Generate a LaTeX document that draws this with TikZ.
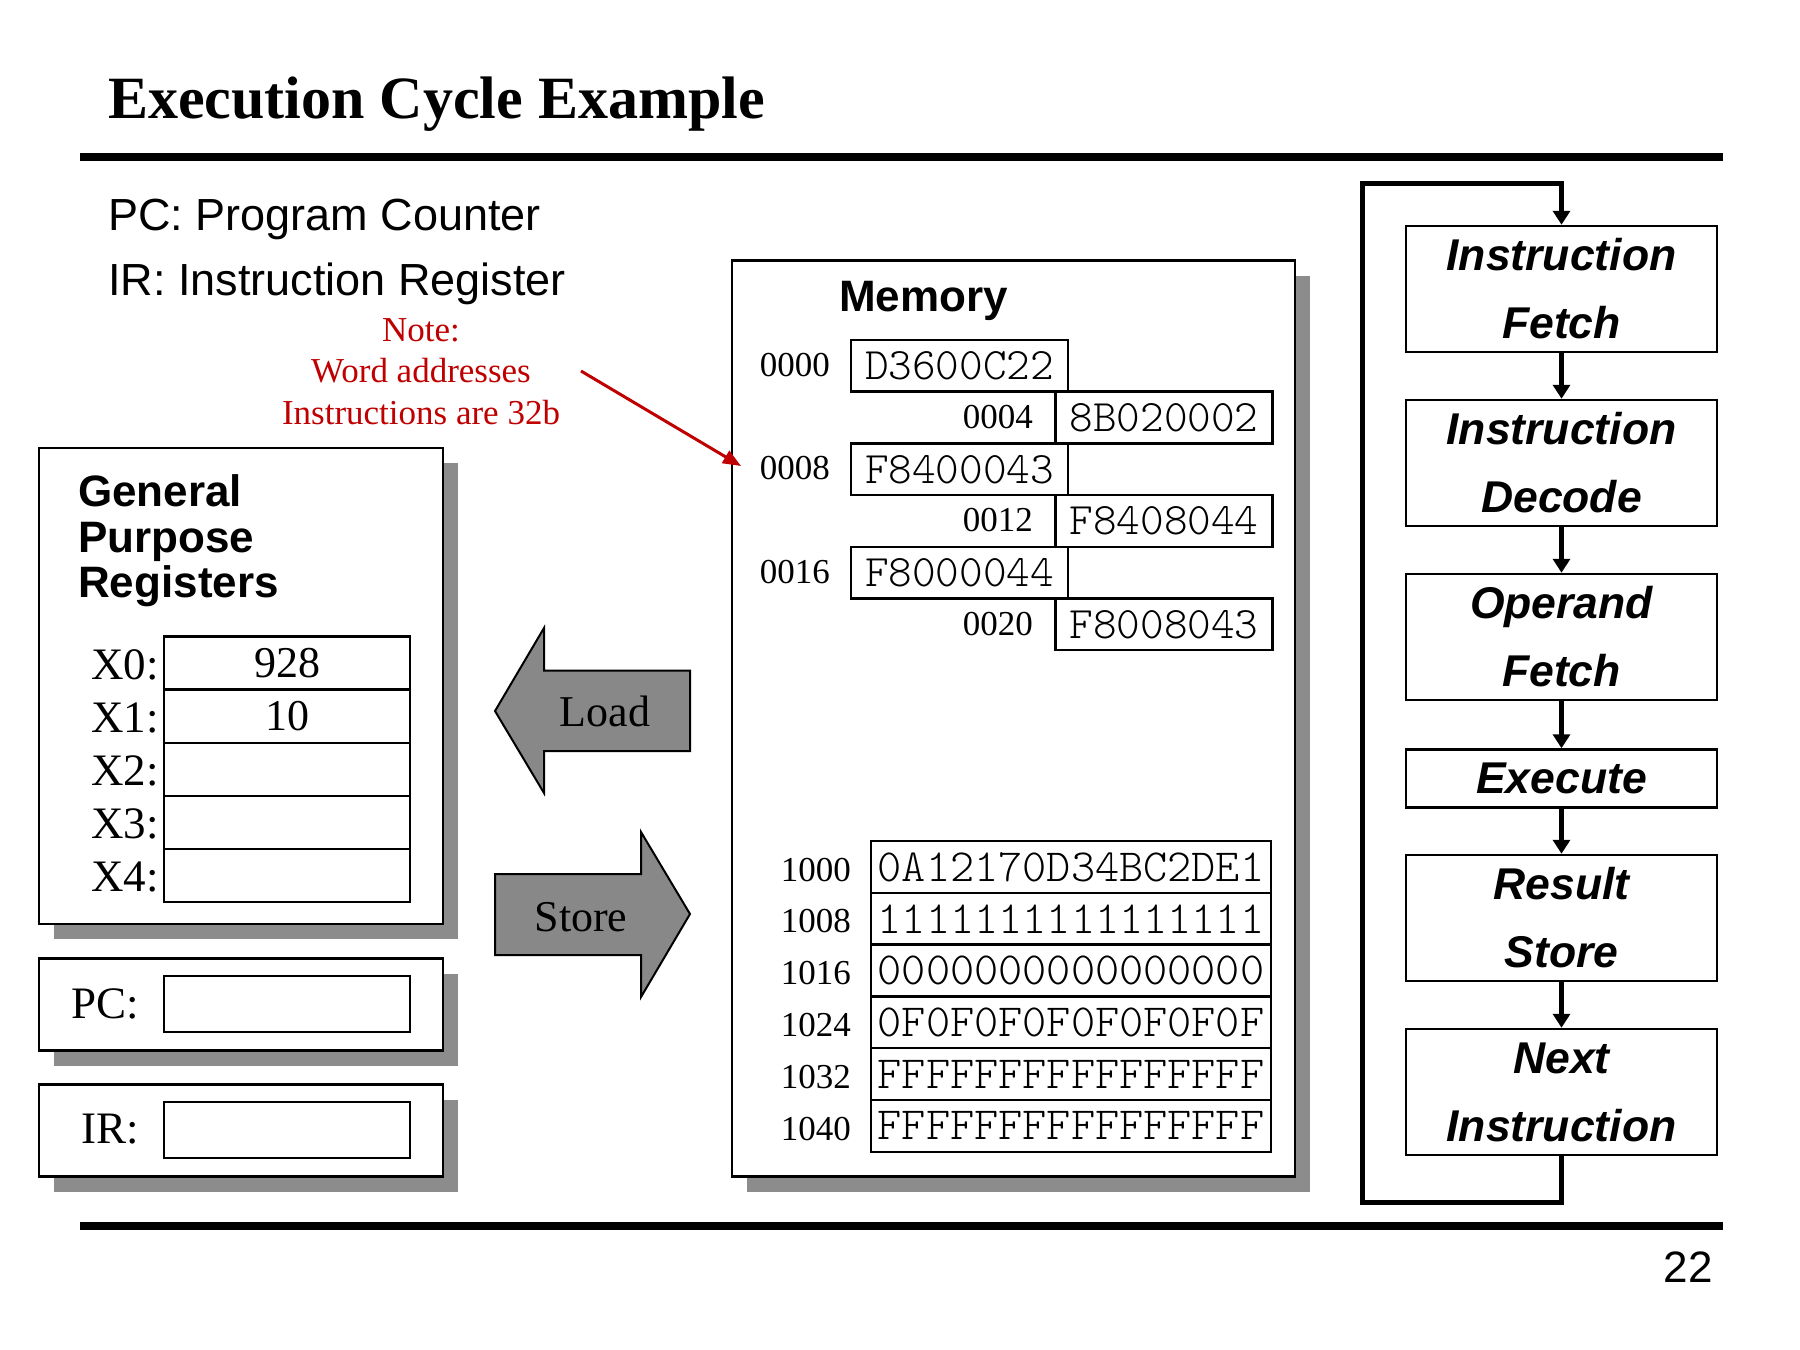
\documentclass[tikz,border=0pt]{standalone}
\usepackage{fontspec}
\setmainfont{Liberation Serif}
\newfontfamily\arialfont{Liberation Sans}
\newfontfamily\hexfont{lmmonolt10-regular}[Extension=.otf]
\usetikzlibrary{arrows.meta,shadows}
\definecolor{notered}{HTML}{C00000}
\definecolor{shadegray}{HTML}{8C8C8C}
\definecolor{blockgray}{HTML}{888888}
\tikzset{
  panel/.style={draw=black, line width=2.5pt, fill=white, inner sep=0pt, outer sep=0pt,
    general shadow={fill=shadegray, shadow xshift=15pt, shadow yshift=-15pt}},
  cell/.style={draw=black, line width=2.5pt, fill=white, inner sep=0pt, outer sep=0pt},
  regcell/.style={cell, minimum width=246pt, minimum height=53.1pt, font=\fontsize{44}{48}\selectfont},
  regname/.style={anchor=base east, inner sep=0pt, font=\fontsize{45}{48}\selectfont},
  memaddr/.style={anchor=base east, inner sep=0pt, font=\fontsize{35}{40}\selectfont},
  wordcell/.style={cell, minimum width=217pt, minimum height=51.7pt, font=\hexfont\fontsize{45}{50}\selectfont},
  dwordcell/.style={cell, minimum width=400pt, minimum height=51.8pt, font=\hexfont\fontsize{46}{50}\selectfont},
  sanstext/.style={anchor=base west, inner sep=0pt, font=\arialfont\fontsize{45}{48}\selectfont},
  sansbold/.style={anchor=base west, inner sep=0pt, font=\arialfont\bfseries\fontsize{44}{46}\selectfont},
  notetext/.style={anchor=base, inner sep=0pt, text=notered, font=\fontsize{35}{41}\selectfont},
  blockarrow/.style={draw=black, line width=2pt, fill=blockgray, line join=miter},
  blocklabel/.style={anchor=base, inner sep=0pt, font=\fontsize{44}{48}\selectfont},
  stage/.style={draw=black, line width=2.5pt, fill=white, minimum width=311pt, align=center,
    inner sep=0pt, font=\arialfont\bfseries\itshape\fontsize{44.5}{68}\selectfont},
  flowarrow/.style={line width=5pt, -{Triangle[length=14pt,width=17pt]}},
  looparrow/.style={line width=5pt, line join=miter, -{Triangle[length=14pt,width=17pt]}},
  notearrow/.style={draw=notered, line width=3pt, -{Triangle[length=18pt,width=14pt]}},
  rule/.style={line width=8pt}
}
\begin{document}
\begin{tikzpicture}[x=1pt,y=-1pt]
\useasboundingbox[fill=white] (0,0) rectangle (1800,1350);

% title and rules
\node[anchor=base west, inner sep=0pt, font=\bfseries\fontsize{60}{66}\selectfont] (title) at (108,118) {Execution Cycle Example};
\coordinate (rtl) at (80,157);
\coordinate (rtr) at (1723,157);
\coordinate (rbl) at (80,1226);
\coordinate (rbr) at (1723,1226);
\draw[rule] (rtl) -- (rtr);
\draw[rule] (rbl) -- (rbr);
\node[anchor=base east, inner sep=0pt, font=\arialfont\fontsize{44}{48}\selectfont] (pagenum) at (1713,1282) {22};

% legend
\node[sanstext] (pcleg) at (108,230) {PC: Program Counter};
\node[sanstext] (irleg) at (108,295) {IR: Instruction Register};

% note
\node[notetext] (note1) at (421,341) {Note:};
\node[notetext] (note2) at (421,382) {Word addresses};
\node[notetext] (note3) at (421,424) {Instructions are 32b};

% general purpose registers
\node[panel, minimum width=404pt, minimum height=476pt] (gpr) at (241,686) {};
\node[sansbold] (gprA) at (78,506) {General};
\node[sansbold] (gprB) at (78,552) {Purpose};
\node[sansbold] (gprC) at (78,597) {Registers};
\node[regcell] (x0) at (287,663.1) {928};
\node[regcell] (x1) at (287,716.2) {10};
\node[regcell] (x2) at (287,769.3) {};
\node[regcell] (x3) at (287,822.4) {};
\node[regcell] (x4) at (287,875.5) {};
\node[regname] (lx0) at (159,679) {X0:};
\node[regname] (lx1) at (159,732) {X1:};
\node[regname] (lx2) at (159,785) {X2:};
\node[regname] (lx3) at (159,838) {X3:};
\node[regname] (lx4) at (159,891) {X4:};

% PC and IR
\node[panel, minimum width=404pt, minimum height=92pt] (pcbox) at (241,1004.5) {};
\node[cell, minimum width=246pt, minimum height=56pt] (pcfield) at (287,1004) {};
\node[regname] (pclabel) at (139,1018) {PC:};
\node[panel, minimum width=404pt, minimum height=92pt] (irbox) at (241,1130.5) {};
\node[cell, minimum width=246pt, minimum height=56pt] (irfield) at (287,1130) {};
\node[regname] (irlabel) at (139,1143) {IR:};

% load / store block arrows
\draw[blockarrow] (495,711) -- (544,628) -- (544,670.5) -- (690,670.5) -- (690,751) -- (544,751) -- (544,793) -- cycle;
\node[blocklabel] (loadlbl) at (605,726) {Load};
\draw[blockarrow] (495,874) -- (641,874) -- (641,832) -- (690,914) -- (641,997) -- (641,955) -- (495,955) -- cycle;
\node[blocklabel] (storelbl) at (581,931) {Store};

% memory
\node[panel, minimum width=563pt, minimum height=916pt] (mem) at (1013.5,718.5) {};
\node[sansbold] (memtitle) at (839,311) {Memory};

\node[wordcell] (m0) at (959.5,365.85) {D3600C22};
\node[wordcell] (m4) at (1164,417.55) {8B020002};
\node[wordcell] (m8) at (959.5,469.25) {F8400043};
\node[wordcell] (m12) at (1164,520.95) {F8408044};
\node[wordcell] (m16) at (959.5,572.65) {F8000044};
\node[wordcell] (m20) at (1164,624.35) {F8008043};
\node[memaddr] (a0) at (830,376.5) {0000};
\node[memaddr] (a4) at (1033,428.2) {0004};
\node[memaddr] (a8) at (830,479.9) {0008};
\node[memaddr] (a12) at (1033,531.6) {0012};
\node[memaddr] (a16) at (830,583.3) {0016};
\node[memaddr] (a20) at (1033,635) {0020};

\node[dwordcell] (d0) at (1071,866.9) {0A12170D34BC2DE1};
\node[dwordcell] (d8) at (1071,918.7) {1111111111111111};
\node[dwordcell] (d16) at (1071,970.5) {0000000000000000};
\node[dwordcell] (d24) at (1071,1022.3) {0F0F0F0F0F0F0F0F};
\node[dwordcell] (d32) at (1071,1074.1) {FFFFFFFFFFFFFFFF};
\node[dwordcell] (d40) at (1071,1125.9) {FFFFFFFFFFFFFFFF};
\node[memaddr] (b0) at (851,881) {1000};
\node[memaddr] (b8) at (851,932.8) {1008};
\node[memaddr] (b16) at (851,984.6) {1016};
\node[memaddr] (b24) at (851,1036.4) {1024};
\node[memaddr] (b32) at (851,1088.2) {1032};
\node[memaddr] (b40) at (851,1140) {1040};

% note arrow (drawn over the memory panel)
\coordinate (notestart) at (581,371);
\coordinate (notetip) at (741,466);
\draw[notearrow] (notestart) -- (notetip);

% execution cycle
\node[stage, minimum height=126pt] (ifetch) at (1561.5,289) {Instruction\\Fetch};
\node[stage, minimum height=126pt] (idecode) at (1561.5,463) {Instruction\\Decode};
\node[stage, minimum height=126pt] (ofetch) at (1561.5,637) {Operand\\Fetch};
\node[stage, minimum height=58pt] (exec) at (1561.5,778.5) {Execute};
\node[stage, minimum height=126pt] (rstore) at (1561.5,918) {Result\\Store};
\node[stage, minimum height=126pt] (nextin) at (1561.5,1092) {Next\\Instruction};
\draw[flowarrow] (ifetch) -- (idecode);
\draw[flowarrow] (idecode) -- (ofetch);
\draw[flowarrow] (ofetch) -- (exec);
\draw[flowarrow] (exec) -- (rstore);
\draw[flowarrow] (rstore) -- (nextin);
\coordinate (loopbl) at (1362,1202);
\coordinate (looptl) at (1362,183);
\draw[looparrow] (nextin.south) |- (loopbl) -- (looptl) -| (ifetch.north);
\end{tikzpicture}
\end{document}
